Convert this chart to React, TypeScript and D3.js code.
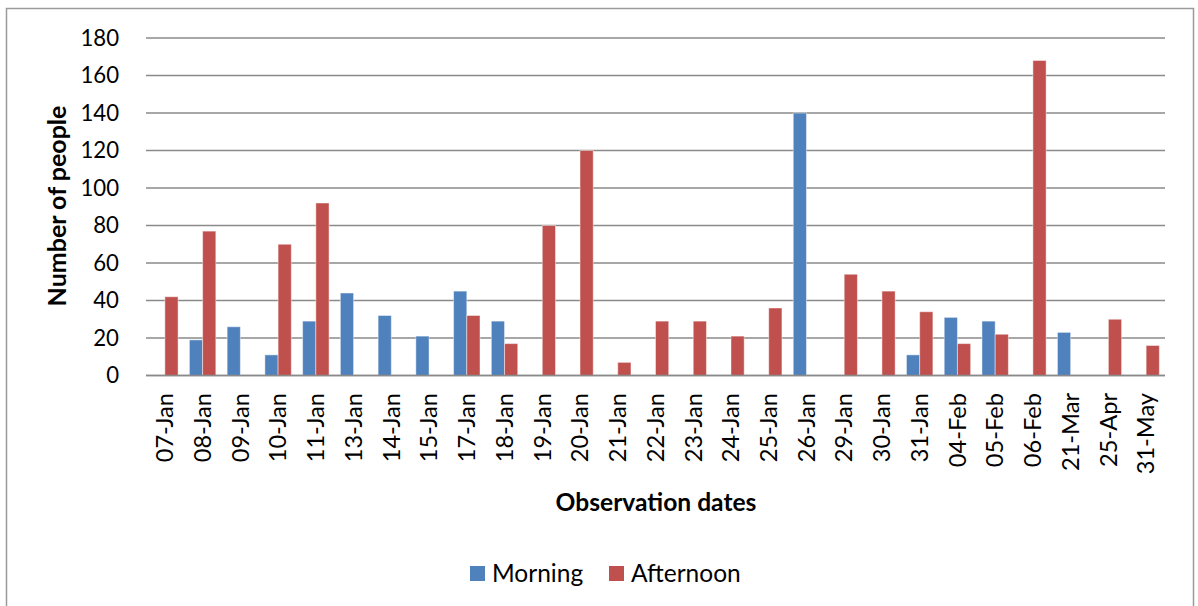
import React from "react";
import * as d3 from "d3";

const categories = ["07-Jan","08-Jan","09-Jan","10-Jan","11-Jan","13-Jan","14-Jan","15-Jan","17-Jan","18-Jan","19-Jan","20-Jan","21-Jan","22-Jan","23-Jan","24-Jan","25-Jan","26-Jan","29-Jan","30-Jan","31-Jan","04-Feb","05-Feb","06-Feb","21-Mar","25-Apr","31-May"];
const morning = [0,19,26,11,29,44,32,21,45,29,0,0,0,0,0,0,0,140,0,0,11,31,29,0,23,0,0];
const afternoon = [42,77,0,70,92,0,0,0,32,17,80,120,7,29,29,21,36,0,54,45,34,17,22,168,0,30,16];
const seriesNames = ["Morning", "Afternoon"];
const seriesColors = ["#4F81BD", "#C0504D"];
const yTicks = [0,20,40,60,80,100,120,140,160,180];

const W = 1198, H = 606;
const left = 146, right = 1165, top = 38, bottom = 375.5;
const FONT = "Lato, 'Open Sans', sans-serif";

export default function App() {
  const x0 = d3.scaleBand<string>().domain(categories).range([left, right]).paddingInner(0.3).paddingOuter(0.15);
  const x1 = d3.scaleBand<string>().domain(seriesNames).range([0, x0.bandwidth()]).padding(0);
  const y = d3.scaleLinear().domain([0, 180]).range([bottom, top]);
  const data = [morning, afternoon];

  return (
    <div style={{ position: "absolute", left: 0, top: 0 }}>
      <svg width={W} height={H} style={{ display: "block", fontFamily: FONT }}>
        <rect x={0} y={0} width={W} height={H} fill="#fff" />
        <rect x={6.5} y={8.5} width={1187} height={620} fill="none" stroke="#9a9a9a" strokeWidth={1.5} />
        {yTicks.map((t) => (
          <g key={t}>
            <line x1={left} x2={right} y1={y(t)} y2={y(t)} stroke="#8a8a8a" strokeWidth={1.6} />
            <text x={119} y={y(t)} dy="0.35em" textAnchor="end" fontSize={22.2} fill="#000">{t}</text>
          </g>
        ))}
        {categories.map((c, i) => (
          <g key={c}>
            {data.map((s, k) =>
              s[i] > 0 ? (
                <rect
                  key={k}
                  x={(x0(c) as number) + (x1(seriesNames[k]) as number)}
                  y={y(s[i])}
                  width={x1.bandwidth()}
                  height={y(0) - y(s[i])}
                  fill={seriesColors[k]}
                  stroke="rgba(255,255,255,0.45)"
                  strokeWidth={1}
                />
              ) : null
            )}
            <text
              transform={`translate(${(x0(c) as number) + x0.bandwidth() / 2},393) rotate(-90)`}
              dy="0.35em"
              textAnchor="end"
              fontSize={23.6}
              fill="#000"
            >
              {c}
            </text>
          </g>
        ))}
        <line x1={left} x2={right} y1={y(0)} y2={y(0)} stroke="#8a8a8a" strokeWidth={1.6} />
        <text transform={`translate(57,206) rotate(-90)`} dy="0.35em" textAnchor="middle" fontSize={25} fontWeight="bold" fill="#000">Number of people</text>
        <text x={656} y={511} textAnchor="middle" fontSize={24.6} fontWeight="bold" fill="#000">Observation dates</text>
        {seriesNames.map((n, k) => {
          const lx = [470, 609][k];
          return (
            <g key={n}>
              <rect x={lx} y={566} width={15} height={15} fill={seriesColors[k]} />
              <text x={lx + 22} y={573.5} dy="0.35em" fontSize={24.5} fill="#000">{n}</text>
            </g>
          );
        })}
      </svg>
    </div>
  );
}
